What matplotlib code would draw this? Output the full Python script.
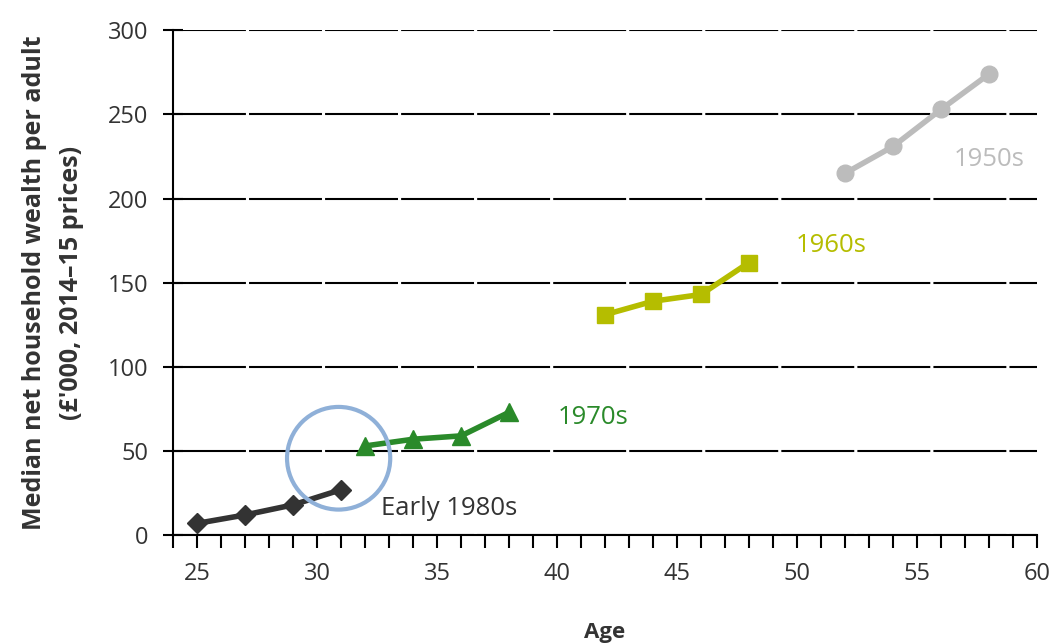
import numpy as np
import matplotlib.pyplot as plt
from matplotlib.patches import Ellipse
from matplotlib.ticker import MultipleLocator

plt.rcParams['font.family'] = ['Open Sans', 'DejaVu Sans']

# cohort data (age, median wealth in £'000)
age_1950s = [52, 54, 56, 58]
wealth_1950s = [215, 231, 253, 274]
age_1960s = [42, 44, 46, 48]
wealth_1960s = [131, 139, 143, 162]
age_1970s = [32, 34, 36, 38]
wealth_1970s = [53, 57, 59, 73]
age_1980s = [25, 27, 29, 31]
wealth_1980s = [7, 12, 18, 27]

fig = plt.figure(figsize=(10.55, 6.44), dpi=100)
ax = fig.add_axes([0.164, 0.169, 0.819, 0.784])

ax.plot(age_1950s, wealth_1950s, color='#bcbcbc', lw=4, marker='o', ms=12, zorder=3)
ax.plot(age_1960s, wealth_1960s, color='#b5bd00', lw=4, marker='s', ms=12, zorder=3)
ax.plot(age_1970s, wealth_1970s, color='#2a8a2a', lw=4, marker='^', ms=13, zorder=3)
ax.plot(age_1980s, wealth_1980s, color='#333333', lw=4, marker='D', ms=10, zorder=3)

ax.text(58.0, 223, '1950s', color='#bcbcbc', fontsize=18.5, ha='center', va='center')
ax.text(51.4, 172, '1960s', color='#b5bd00', fontsize=18.5, ha='center', va='center')
ax.text(41.5, 70, '1970s', color='#2a8a2a', fontsize=18.5, ha='center', va='center')
ax.text(35.5, 16, 'Early 1980s', color='#333333', fontsize=18.5, ha='center', va='center')

# highlight circle
ax.add_patch(Ellipse((30.9, 45.7), 4.3, 61, fill=False, edgecolor='#8fb0d8', lw=3, zorder=4))

ax.set_xlim(24, 60)
ax.set_ylim(0, 300)
ax.xaxis.set_major_locator(MultipleLocator(5))
ax.xaxis.set_minor_locator(MultipleLocator(1))
ax.yaxis.set_major_locator(MultipleLocator(50))

ax.grid(axis='y', color='black', lw=1.5, linestyle=(0, (35, 1.5)))
ax.set_axisbelow(True)
for s in ['top', 'right']:
    ax.spines[s].set_visible(False)
ax.spines['left'].set_linewidth(1.5)
ax.spines['bottom'].set_linewidth(1.5)

ax.tick_params(axis='x', which='both', direction='out', length=9, width=1.5, labelsize=17,
               labelcolor='#333333', pad=10)
ax.tick_params(axis='y', direction='inout', length=14, width=1.5, labelsize=17,
               labelcolor='#333333', pad=11)

ax.set_xlabel('Age', fontsize=16, fontweight='bold', color='#333333', labelpad=26)
ax.set_ylabel("Median net household wealth per adult\n(£'000, 2014\u201315 prices)",
              fontsize=18, fontweight='bold', color='#333333', labelpad=17, linespacing=1.6)

plt.savefig('out.png', dpi=100)
